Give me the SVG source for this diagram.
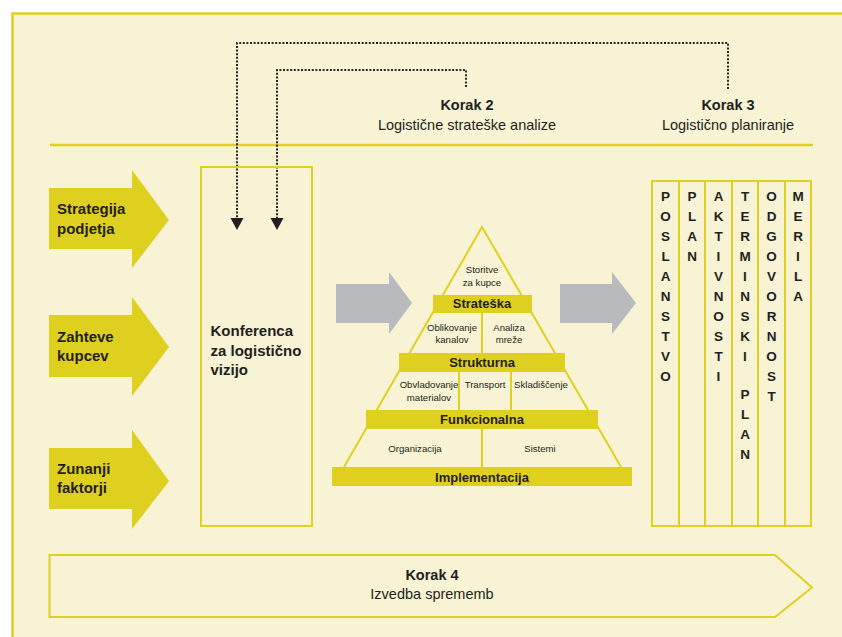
<svg xmlns="http://www.w3.org/2000/svg" width="842" height="637" viewBox="0 0 842 637">
<style>
.bg{fill:#f7f3d4;stroke:#e0d020;stroke-width:2.5}
.ya{fill:#dfcf1e}
.ga{fill:#b9babd}
.ybox{fill:none;stroke:#e0d020;stroke-width:2}
.bar{fill:#dfcf1e}
.pyr{fill:none;stroke:#e0d020;stroke-width:2}
.dot{fill:none;stroke:#2a2627;stroke-width:2;stroke-dasharray:2 1.6}
.t{font-family:"Liberation Sans",Arial,sans-serif;fill:#231f20}
.b{font-weight:bold}
.hd{font-size:14.5px}
.lbl{font-size:15px;font-weight:bold}
.sm{font-size:9.6px;text-anchor:middle}
.bt{font-size:13px;font-weight:bold;text-anchor:middle}
.col{font-size:13.5px;font-weight:bold;text-anchor:middle}
</style>
<defs>
<marker id="ah" viewBox="0 0 14 12" refX="7" refY="11" markerWidth="14" markerHeight="12" markerUnits="userSpaceOnUse" orient="auto-start-reverse">
<path d="M0,0 L14,0 L7,12 Z" fill="#231f20"/>
</marker>
</defs>
<rect x="0" y="0" width="842" height="637" fill="#ffffff"/>
<rect class="bg" x="12.5" y="13.5" width="840" height="640"/>
<line x1="50" y1="145" x2="813" y2="145" stroke="#e0d020" stroke-width="2.5"/>

<g id="connectors">
<path class="dot" d="M728,89 V43 H237 V218"/>
<path class="dot" d="M466,87 V70 H277 V218"/>
<path d="M230.5,218 L243.5,218 L237,230 Z" fill="#231f20"/>
<path d="M270.5,218 L283.5,218 L277,230 Z" fill="#231f20"/>
</g>

<g id="korak2">
<text class="t b hd" x="467" y="110" text-anchor="middle">Korak 2</text>
<text class="t hd" x="467" y="130" text-anchor="middle">Logistične strateške analize</text>
</g>
<g id="korak3">
<text class="t b hd" x="728" y="110" text-anchor="middle">Korak 3</text>
<text class="t hd" x="728" y="130" text-anchor="middle">Logistično planiranje</text>
</g>

<g id="strategija">
<path class="ya" d="M49,188 H132 V170 L169,220 L132,268 V249 H49 Z"/>
<text class="t lbl" x="57" y="214">Strategija</text>
<text class="t lbl" x="57" y="234">podjetja</text>
</g>
<g id="zahteve">
<path class="ya" d="M49,315 H132 V297 L169,347 L132,396 V377 H49 Z"/>
<text class="t lbl" x="57" y="342">Zahteve</text>
<text class="t lbl" x="57" y="361">kupcev</text>
</g>
<g id="zunanji">
<path class="ya" d="M49,448 H132 V430 L169,481 L132,529 V509 H49 Z"/>
<text class="t lbl" x="57" y="474">Zunanji</text>
<text class="t lbl" x="57" y="493">faktorji</text>
</g>

<g id="konferenca">
<rect class="ybox" x="201" y="167" width="111" height="359"/>
<text class="t lbl" x="210.5" y="336">Konferenca</text>
<text class="t lbl" x="210.5" y="356">za logistično</text>
<text class="t lbl" x="210.5" y="375">vizijo</text>
</g>

<g id="gray-arrow-left">
<path class="ga" d="M336,284 H389 V272 L412,303 L389,334 V323 H336 Z"/>
</g>
<g id="gray-arrow-right">
<path class="ga" d="M560,284 H612 V272 L636,303 L612,334 V323 H560 Z"/>
</g>

<g id="pyramid">
<path class="pyr" d="M344,467 L482,227 L621,467"/>
<line class="pyr" x1="482" y1="313" x2="482" y2="353"/>
<line class="pyr" x1="459" y1="372" x2="459" y2="410"/>
<line class="pyr" x1="511" y1="372" x2="511" y2="410"/>
<line class="pyr" x1="482" y1="429" x2="482" y2="467"/>
<rect class="bar" x="433" y="295" width="99" height="18"/>
<rect class="bar" x="399" y="353" width="166" height="19"/>
<rect class="bar" x="366" y="410" width="232" height="19"/>
<rect class="bar" x="332" y="467" width="300" height="19"/>
<text class="t sm" x="482" y="273">Storitve</text>
<text class="t sm" x="482" y="286">za kupce</text>
<text class="t bt" x="482" y="308">Strateška</text>
<text class="t sm" x="452" y="331">Oblikovanje</text>
<text class="t sm" x="452" y="343">kanalov</text>
<text class="t sm" x="509" y="331">Analiza</text>
<text class="t sm" x="509" y="343">mreže</text>
<text class="t bt" x="482" y="367">Strukturna</text>
<text class="t sm" x="429" y="388">Obvladovanje</text>
<text class="t sm" x="429" y="401">materialov</text>
<text class="t sm" x="485" y="388">Transport</text>
<text class="t sm" x="541" y="388">Skladiščenje</text>
<text class="t bt" x="482" y="424">Funkcionalna</text>
<text class="t sm" x="415" y="452">Organizacija</text>
<text class="t sm" x="540" y="452">Sistemi</text>
<text class="t bt" x="482" y="482">Implementacija</text>
</g>

<g id="plan-columns">
<rect class="ybox" x="652" y="181" width="27" height="345"/>
<rect class="ybox" x="679" y="181" width="26" height="345"/>
<rect class="ybox" x="705" y="181" width="27" height="345"/>
<rect class="ybox" x="732" y="181" width="26" height="345"/>
<rect class="ybox" x="758" y="181" width="27" height="345"/>
<rect class="ybox" x="785" y="181" width="26" height="345"/>
<text class="t col" x="665.5" y="201"><tspan x="665.5" dy="0">P</tspan><tspan x="665.5" dy="20">O</tspan><tspan x="665.5" dy="20">S</tspan><tspan x="665.5" dy="20">L</tspan><tspan x="665.5" dy="20">A</tspan><tspan x="665.5" dy="20">N</tspan><tspan x="665.5" dy="20">S</tspan><tspan x="665.5" dy="20">T</tspan><tspan x="665.5" dy="20">V</tspan><tspan x="665.5" dy="20">O</tspan></text>
<text class="t col" x="692" y="201"><tspan x="692" dy="0">P</tspan><tspan x="692" dy="20">L</tspan><tspan x="692" dy="20">A</tspan><tspan x="692" dy="20">N</tspan></text>
<text class="t col" x="718.5" y="201"><tspan x="718.5" dy="0">A</tspan><tspan x="718.5" dy="20">K</tspan><tspan x="718.5" dy="20">T</tspan><tspan x="718.5" dy="20">I</tspan><tspan x="718.5" dy="20">V</tspan><tspan x="718.5" dy="20">N</tspan><tspan x="718.5" dy="20">O</tspan><tspan x="718.5" dy="20">S</tspan><tspan x="718.5" dy="20">T</tspan><tspan x="718.5" dy="20">I</tspan></text>
<text class="t col" x="745" y="201"><tspan x="745" dy="0">T</tspan><tspan x="745" dy="20">E</tspan><tspan x="745" dy="20">R</tspan><tspan x="745" dy="20">M</tspan><tspan x="745" dy="20">I</tspan><tspan x="745" dy="20">N</tspan><tspan x="745" dy="20">S</tspan><tspan x="745" dy="20">K</tspan><tspan x="745" dy="20">I</tspan><tspan x="745" dy="38">P</tspan><tspan x="745" dy="20">L</tspan><tspan x="745" dy="20">A</tspan><tspan x="745" dy="20">N</tspan></text>
<text class="t col" x="771.5" y="201"><tspan x="771.5" dy="0">O</tspan><tspan x="771.5" dy="20">D</tspan><tspan x="771.5" dy="20">G</tspan><tspan x="771.5" dy="20">O</tspan><tspan x="771.5" dy="20">V</tspan><tspan x="771.5" dy="20">O</tspan><tspan x="771.5" dy="20">R</tspan><tspan x="771.5" dy="20">N</tspan><tspan x="771.5" dy="20">O</tspan><tspan x="771.5" dy="20">S</tspan><tspan x="771.5" dy="20">T</tspan></text>
<text class="t col" x="798" y="201"><tspan x="798" dy="0">M</tspan><tspan x="798" dy="20">E</tspan><tspan x="798" dy="20">R</tspan><tspan x="798" dy="20">I</tspan><tspan x="798" dy="20">L</tspan><tspan x="798" dy="20">A</tspan></text>
</g>

<g id="korak4">
<path class="ybox" d="M49.5,555 H775 L812,587.5 L775,617 H49.5 Z"/>
<text class="t b hd" x="432" y="580" text-anchor="middle">Korak 4</text>
<text class="t hd" x="432" y="599" text-anchor="middle">Izvedba sprememb</text>
</g>
</svg>
